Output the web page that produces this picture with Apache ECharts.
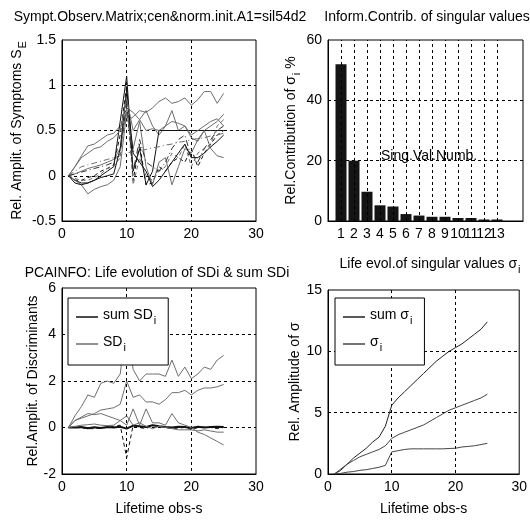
<!DOCTYPE html>
<html><head><meta charset="utf-8">
<script src="https://cdn.jsdelivr.net/npm/echarts@6/dist/echarts.min.js"></script>
<style>html,body{margin:0;padding:0;background:#fff}#c{width:530px;height:521px}</style>
</head><body><div id="c"></div>
<script>
// ---------- data ----------
const X = [1,2,3,4,5,6,7,8,9,10,11,12,13,14,15,16,17,18,19,20,21,22,23,24,25];

// Top-left: symptom observation matrix (normalized)
const S1  = [0,0.1,0.22,0.33,0.35,0.4,0.45,0.47,0.55,0.6,0.65,0.72,0.7,0.75,0.82,0.86,0.8,0.82,0.86,0.78,0.84,0.93,0.93,0.8,0.91];
const S2  = [0,0.02,0.05,0.08,0.1,0.12,0.15,0.18,0.3,0.75,0.7,0.62,0.72,0.55,0.45,0.55,0.72,0.5,0.55,0.42,0.38,0.5,0.55,0.6,0.68];
const S3  = [0,-0.05,-0.08,-0.08,-0.05,0,0.05,0.1,0.6,1.1,0.05,0.3,-0.1,0.05,0.5,0.5,0.5,0.5,0.5,0.5,0.5,0.5,0.5,0.5,0.5];
const S4  = [0,-0.05,-0.05,-0.02,0,0.05,0.08,0.12,0.45,1.0,-0.05,0.35,-0.1,-0.08,0.1,0.05,0.15,0.2,0.15,0.3,0.1,0.25,0.35,0.45,0.5];
const S5  = [0,0.05,0.1,0.12,0.14,0.16,0.18,0.2,0.22,0.25,0.27,0.28,0.29,0.31,0.32,0.34,0.35,0.37,0.38,0.4,0.41,0.42,0.44,0.45,0.47];
const S6  = [0,-0.05,-0.1,-0.2,-0.15,-0.12,-0.1,-0.05,0.1,0.7,0.3,0.6,0.1,-0.1,0.15,0.2,-0.1,0.1,0.3,0.25,0.4,0.5,0.3,0.22,0.2];
const S7  = [0,-0.03,-0.05,-0.05,-0.02,0.02,0.08,0.1,0.2,0.9,-0.1,0.2,0,-0.05,0.05,0.1,0.25,0.2,0.35,0.1,0.25,0.3,0.35,0.55,0.62];
const S8  = [0,-0.08,-0.1,-0.08,-0.05,-0.02,0,0.02,0.3,0.95,0.25,0.15,0.05,-0.12,-0.05,0.05,0.15,0.25,0.35,0.2,0.2,0.25,0.32,0.38,0.45];
const S9  = [0,0.1,0.2,0.25,0.3,0.32,0.38,0.42,0.5,0.85,0.5,0.62,0.5,0.52,0.5,0.55,0.6,0.58,0.55,0.45,0.5,0.55,0.6,0.63,0.55];
const S10 = [0,0.02,0.04,0.06,0.08,0.1,0.12,0.15,0.25,0.8,0.05,0.4,0.15,0.1,0.05,0.15,0.3,0.4,0.45,0.2,0.15,0.3,0.4,0.5,0.55];

// Top-right: information contribution of singular values (%)
const SV_NUM = [1,2,3,4,5,6,7,8,9,10,11,12,13];
const SV_PCT = [52,20,9.7,5.2,4.8,2.3,1.8,1.4,1.4,1.0,1.0,0.5,0.5];

// Bottom-left: life evolution of discriminants
const SUM_SD = [0,0,0.02,-0.03,0.01,-0.02,0.02,0,0.03,-0.05,0.08,0.05,0.02,0.1,0.05,0.02,0,0.03,0.02,-0.02,0.03,0,0.02,0.03,0.02];
const SD1 = [0,0.5,0.9,1.4,1.3,1.9,2.0,1.9,2.3,4.5,2.5,2.0,2.3,2.3,2.3,2.2,2.9,2.2,2.6,2.1,2.3,2.6,2.5,2.9,3.1];
const SD2 = [0,0.3,0.4,0.5,0.6,0.75,0.8,0.85,1.0,2.0,1.3,1.4,1.1,1.1,1.0,1.2,1.5,1.5,1.6,1.4,1.6,1.7,1.7,1.75,1.85];
const SD3 = [0,0.3,0.45,0.6,0.55,0.6,0.5,0.4,0.3,0.1,0.8,0.1,0.8,0.2,0.2,0.1,0.6,0.2,0.1,0,-0.2,-0.3,-0.45,-0.6,-0.75];
const SD4 = [0,0,-0.02,-0.05,-0.05,-0.03,0,0.05,0.1,-1.3,0.1,0,-0.05,0.1,0.05,0,-0.05,-0.02,0,-0.1,0,0.02,0,-0.05,0];
const SD5 = [0,0.05,0.1,0.12,0.15,0.1,0.08,0.1,0.3,0.5,0.1,0.2,0.05,-0.05,0.05,0,-0.05,-0.1,-0.1,-0.1,-0.15,-0.1,-0.15,-0.2,-0.2];

// Bottom-right: life evolution of singular values
const SUM_SIG = [0,0.3,0.8,1.3,1.7,2.1,2.6,3.0,3.9,5.6,6.2,6.7,7.2,7.7,8.2,8.7,9.2,9.6,10.0,10.3,10.6,11.0,11.4,11.8,12.4];
const SIG1 = [0,0.4,0.8,1.1,1.4,1.6,1.8,2.0,2.3,2.9,3.2,3.4,3.6,3.8,4.0,4.3,4.6,4.9,5.2,5.4,5.6,5.8,6.0,6.2,6.5];
const SIG2 = [0,0.05,0.15,0.2,0.3,0.35,0.45,0.55,0.7,1.8,1.9,2.0,2.05,2.05,2.05,2.05,2.05,2.05,2.08,2.1,2.2,2.25,2.3,2.4,2.5];

// tick definitions
const TL_Y = {min:-0.5, max:1.5, interval:0.5};
const BL_Y = {min:-2, max:6, interval:2};
const TR_Y = {min:0, max:60, interval:20};
const BR_Y = {min:0, max:15, interval:5};
const T_X  = {min:0, max:30, interval:10};

// ---------- styles ----------
const F = '"Liberation Sans",Arial,sans-serif';
const FS = 14;
const BLACK = '#111', GRAY = '#6e6e6e';
const rich = {
  n:{fontFamily:F,fontSize:FS,color:'#000',verticalAlign:'top'},
  s:{fontFamily:F,fontSize:11,color:'#000',verticalAlign:'top',padding:[7,0,0,1]}
};
const grids = [
  {left:62, top:40, width:194, height:181},
  {left:328, top:40, width:195, height:181},
  {left:62, top:288, width:194, height:186},
  {left:328, top:290, width:195, height:184}
].map(g=>Object.assign(g,{show:true,borderColor:'#000',borderWidth:1,backgroundColor:'#fff'}));

const dash = {show:true, showMinLine:false, showMaxLine:false, lineStyle:{color:'#000',type:[3,3],width:1}};
function axis(gi, r, extra){
  return Object.assign({
    type:'value', gridIndex:gi, min:r.min, max:r.max, interval:r.interval,
    axisLine:{show:true,onZero:false,lineStyle:{color:'#000'}}, axisTick:{show:false},
    axisLabel:{fontFamily:F,fontSize:FS,color:'#000',margin:6},
    splitLine:dash,
    nameTextStyle:{fontFamily:F,fontSize:FS,color:'#000',rich:rich}
  }, extra||{});
}
const pts = v => X.map((x,i)=>[x,v[i]]);
function line(gi, name, v, color, type, width){
  return {type:'line', name:name, xAxisIndex:gi, yAxisIndex:gi, data:pts(v), showSymbol:false, symbol:'none',
    color:color, lineStyle:{color:color,width:width||1,type:type||'solid'}, silent:true, z:3};
}

const tl = [
  [S1,GRAY,'solid'],[S2,GRAY,'solid'],[S3,BLACK,'solid'],[S4,BLACK,[4,3]],[S5,GRAY,[6,3,1,3]],
  [S6,GRAY,'solid'],[S7,GRAY,[4,3]],[S8,BLACK,'solid'],[S9,GRAY,'solid'],[S10,'#333',[6,3,1,3]]
].map((d,i)=>line(0,'S'+i,d[0],d[1],d[2]));

const series = tl.concat([
  {type:'bar', name:'pct', xAxisIndex:1, yAxisIndex:1, data:SV_NUM.map((n,i)=>[n,SV_PCT[i]]),
   barWidth:11, itemStyle:{color:'#141414'}, silent:true,
   markLine:{symbol:'none',silent:true,label:{show:false},animation:false,
     lineStyle:{color:'#000',type:[3,3],width:1}, data:SV_NUM.map(n=>({xAxis:n}))}},
  line(2,'sumSD',SUM_SD,BLACK,'solid',2),
  line(2,'SD',SD1,GRAY,'solid'),
  line(2,'SD',SD2,GRAY,'solid'),
  line(2,'SD',SD3,GRAY,'solid'),
  line(2,'SD',SD4,BLACK,[4,3]),
  line(2,'SD',SD5,GRAY,'solid'),
  line(3,'sumSig',SUM_SIG,'#222','solid'),
  line(3,'Sig',SIG1,'#444','solid'),
  line(3,'Sig',SIG2,'#444','solid')
]);

const legendNames = {sumSD:'{n|sum SD}{s|i}', SD:'{n|SD}{s|i}', sumSig:'{n|sum σ}{s|i}', Sig:'{n|σ}{s|i}'};
function legend(data, left, top){
  return {data:data, left:left, top:top, orient:'vertical', icon:'rect', itemWidth:22, itemHeight:1.5,
    itemGap:9, padding:[10,12,12,8], backgroundColor:'#fff', borderColor:'#000', borderWidth:1,
    selectedMode:false, formatter:n=>legendNames[n],
    textStyle:{fontFamily:F,fontSize:FS,color:'#000',rich:rich}};
}
function title(text, cx, top){
  return {text:text, left:cx, top:top, textAlign:'center',
    textStyle:{fontFamily:F,fontSize:FS,fontWeight:'normal',color:'#000',rich:rich}};
}

const option = {
  animation:false,
  backgroundColor:'#fff',
  title:[
    title('Sympt.Observ.Matrix;cen&norm.init.A1=sil54d2',155,5),
    title('Inform.Contrib. of singular values',422,5),
    title('PCAINFO: Life evolution of SDi & sum SDi',152,261),
    title('{n|Life evol.of singular values σ}{s|i}',425,252)
  ],
  grid:grids,
  xAxis:[
    axis(0,T_X),
    axis(1,{min:0,max:15,interval:1},{splitLine:{show:false},
      axisLabel:{fontFamily:F,fontSize:FS,color:'#000',margin:6,hideOverlap:false,
        formatter:v=>(v>=1&&v<=13)?String(v):''}}),
    axis(2,T_X,{name:'Lifetime obs-s',nameLocation:'middle',nameGap:28}),
    axis(3,T_X,{name:'Lifetime obs-s',nameLocation:'middle',nameGap:28})
  ],
  yAxis:[
    axis(0,TL_Y,{name:'{n|Rel. Amplit. of Symptoms S}{s|E}',nameLocation:'middle',nameGap:34,nameRotate:90}),
    axis(1,TR_Y,{name:'{n|Rel.Contribution of σ}{s|i}{n| %}',nameLocation:'middle',nameGap:18,nameRotate:90}),
    axis(2,BL_Y,{name:'Rel.Amplit. of Discriminants',nameLocation:'middle',nameGap:20,nameRotate:90}),
    axis(3,BR_Y,{name:'Rel. Amplitude of σ',nameLocation:'middle',nameGap:19,nameRotate:90})
  ],
  legend:[legend(['sumSD','SD'],68,298), legend(['sumSig','Sig'],335,298)],
  graphic:[{type:'text', left:381, top:149, style:{text:'Sing.Val.Numb.', font:FS+'px '+F, fill:'#000'}, z:100}],
  series:series
};
const chart = echarts.init(document.getElementById('c'), null, {renderer:'canvas'});
chart.setOption(option);
</script></body></html>
